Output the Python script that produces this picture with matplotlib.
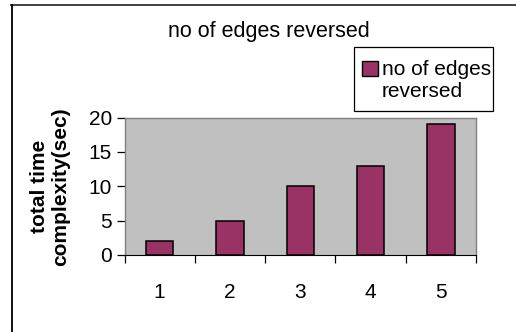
import matplotlib.pyplot as plt
from matplotlib.patches import Rectangle
from matplotlib.lines import Line2D

categories = ['1', '2', '3', '4', '5']
values = [2, 5, 10, 13, 19]
series_name = 'no of edges\nreversed'

plt.rcParams['font.family'] = ['Liberation Sans', 'DejaVu Sans']

W, H = 516, 332
fig = plt.figure(figsize=(W / 100, H / 100), dpi=100)


def fx(px):
    return px / W


def fy(py):
    return 1 - py / H


# outer chart border (only top and left visible)
fig.lines.append(Line2D([fx(11), fx(516)], [fy(5), fy(5)], transform=fig.transFigure,
                        color='#333333', linewidth=1.3))
fig.lines.append(Line2D([fx(12), fx(12)], [fy(5), fy(332)], transform=fig.transFigure,
                        color='black', linewidth=1.3))

ax = fig.add_axes([fx(124.5), fy(255), fx(476) - fx(124.5), fy(117.5) - fy(255)])
ax.set_facecolor('#C0C0C0')
x = range(len(categories))
ax.bar(x, values, width=0.39, color='#993366', edgecolor='black', linewidth=1.1, zorder=3)
ax.set_xlim(-0.5, len(categories) - 0.5)
ax.set_ylim(0, 20)
ax.set_yticks([0, 5, 10, 15, 20])
ax.set_xticks([i - 0.5 for i in range(len(categories) + 1)])
ax.set_xticklabels([])
ax.set_xticks(list(x), minor=True)
ax.set_xticklabels(categories, minor=True, fontsize=15)
ax.tick_params(axis='x', which='major', length=6, direction='out', width=0.9)
ax.tick_params(axis='x', which='minor', length=0, pad=20)
ax.tick_params(axis='y', labelsize=15, length=6, width=0.9, pad=3)
for s in ['top', 'right', 'left']:
    ax.spines[s].set_color('#808080')
    ax.spines[s].set_linewidth(1.0)
ax.spines['bottom'].set_color('black')

ax.set_ylabel('total time\ncomplexity(sec)', fontsize=15, fontweight='bold', labelpad=13,
              linespacing=1.2)

fig.text(fx(269), fy(37), 'no of edges reversed', ha='center', va='baseline', fontsize=15.5)

# legend box
fig.patches.append(Rectangle((fx(354), fy(111)), fx(493) - fx(354), fy(47) - fy(111),
                             transform=fig.transFigure, facecolor='white', edgecolor='black',
                             linewidth=0.9))
fig.patches.append(Rectangle((fx(362), fy(76)), fx(378) - fx(362), fy(61) - fy(76),
                             transform=fig.transFigure, facecolor='#993366', edgecolor='black',
                             linewidth=1.0))
fig.text(fx(382), fy(80.5), series_name, ha='left', va='center', fontsize=15, linespacing=1.15)

fig.savefig('out.png', dpi=100)
